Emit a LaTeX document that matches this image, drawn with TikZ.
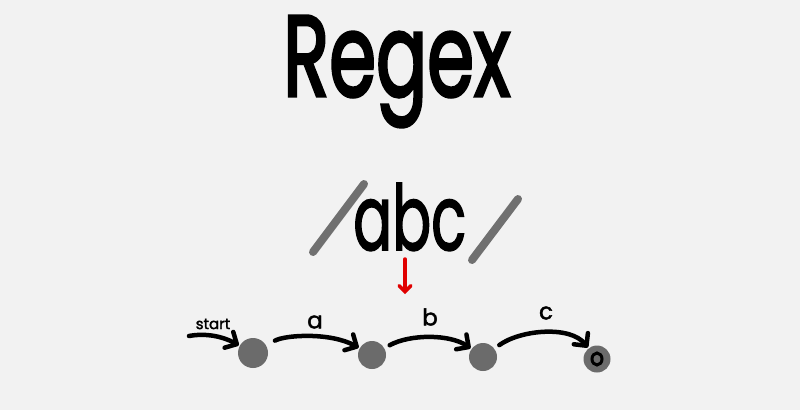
\documentclass[tikz,border=0pt]{standalone}
\usepackage{fontspec}
\setmainfont{Poppins}
\newfontfamily\handA[FakeBold=3]{Poppins}
\newfontfamily\handB[FakeBold=2]{Poppins}
\usetikzlibrary{arrows.meta}
\definecolor{bg}{HTML}{F2F2F2}
\definecolor{stategray}{HTML}{6B6B6B}
\definecolor{slashgray}{HTML}{707070}
\definecolor{redarrow}{HTML}{E00000}
\tikzset{
  state/.style={circle,fill=stategray,inner sep=0pt,minimum size=#1},
  hand/.style={line width=4.5pt,line cap=round,line join=round,
    -{Straight Barb[length=9pt,width=18pt,line cap=round,line join=round]}},
  slash/.style={line width=8pt,line cap=round,slashgray},
  lbl/.style={font=\handB\fontsize{23}{23}\selectfont,inner sep=0pt}
}
\begin{document}
\begin{tikzpicture}[x=1pt,y=-1pt]
\fill[bg] (0,0) rectangle (800,410);
\useasboundingbox (0,0) rectangle (800,410);
% title
\node[anchor=base west,inner sep=0pt] (title) at (283,96)
  {\resizebox{227pt}{80pt}{\handA Regex}};
% /abc/
\draw[slash] (313,252) coordinate (l1) -- (364,184) coordinate (l2);
\draw[slash] (472,260) coordinate (r1) -- (518,199) coordinate (r2);
\node[anchor=base west,inner sep=0pt] (abc) at (353,250)
  {\resizebox{113pt}{67pt}{\handB abc}};
% red arrow
\coordinate (ra) at (405,259);
\coordinate (rb) at (405,294);
\draw[redarrow,line width=3.5pt,line cap=round,
  -{Straight Barb[length=6pt,width=12pt,line cap=round]}] (ra) -- (rb);
% states
\node[state=30pt] (s0) at (253,353) {};
\node[state=28pt] (s1) at (372,355) {};
\node[state=28pt] (s2) at (483,357) {};
\node[state=27pt] (s3) at (597,359) {};
\draw[line width=3pt,fill=stategray] (s3.center) ellipse[x radius=5pt,y radius=6pt];
% start
\coordinate (st) at (189,336);
\node[font=\handB\fontsize{15}{15}\selectfont,inner sep=0pt] (startlbl) at (213,324) {start};
\draw[hand,shorten >=1pt] (st) .. controls (205,333) and (222,336) .. (s0);
% transitions
\draw[hand,shorten <=10pt,shorten >=1pt] (s0) .. controls (285,335) and (330,332) .. (s1);
\node[lbl] (la) at (315,322) {a};
\draw[hand,shorten <=6pt,shorten >=1pt] (s1) .. controls (410,334) and (450,334) .. (s2);
\node[lbl] (lb) at (430,317) {b};
\draw[hand,shorten <=6pt,shorten >=1pt] (s2) .. controls (520,330) and (570,325) .. (s3);
\node[lbl] (lc) at (546,313) {c};
\end{tikzpicture}
\end{document}
